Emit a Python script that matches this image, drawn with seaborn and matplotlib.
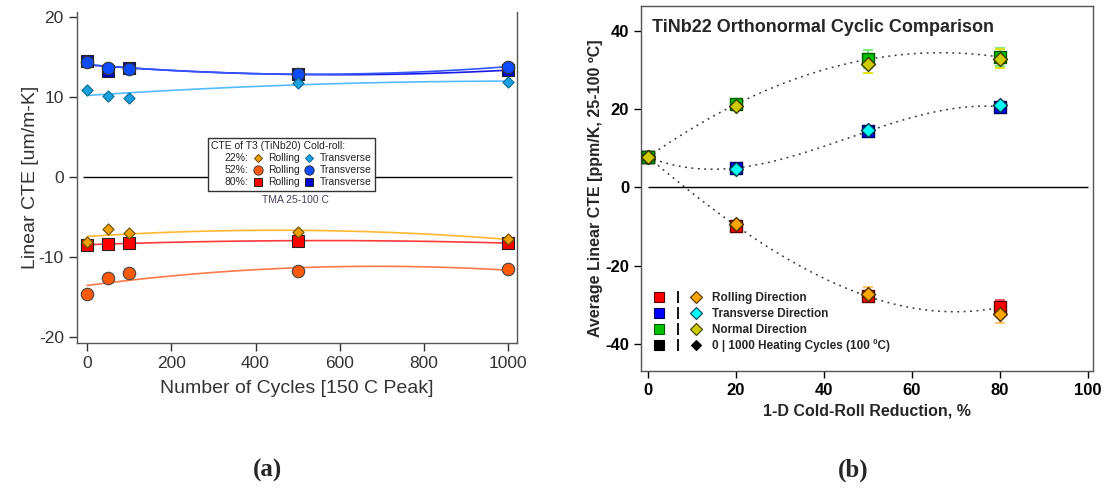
import numpy as np
import pandas as pd
import matplotlib
matplotlib.use("Agg")
import matplotlib.pyplot as plt
from matplotlib.lines import Line2D
from matplotlib.legend_handler import HandlerTuple
import seaborn as sns

# ---------------- Panel (a): CTE vs. number of thermal cycles ----------------
cycles = [0, 50, 100, 500, 1000]
roll_22 = [-8.2, -6.6, -7.0, -6.9, -7.8]
trans_22 = [10.8, 10.1, 9.9, 11.75, 11.9]
roll_52 = [-14.7, -12.7, -12.1, -11.8, -11.6]
trans_52 = [14.3, 13.6, 13.5, 12.9, 13.75]
roll_80 = [-8.5, -8.45, -8.3, -8.0, -8.3]
trans_80 = [14.5, 13.2, 13.6, 12.9, 13.3]
a_yticks = [-20, -10, 0, 10, 20]
a_xticks = [0, 200, 400, 600, 800, 1000]

# ---------------- Panel (b): CTE vs. cold-roll reduction ----------------
reduction = [0, 20, 50, 80]
rd_0 = [7.8, -9.8, -27.9, -30.7]
rd_0_err = [0.4, 0.5, 1.5, 2.0]
rd_1000 = [7.8, -9.4, -27.3, -32.4]
rd_1000_err = [0.3, 0.5, 1.8, 2.4]
td_0 = [7.8, 5.0, 14.4, 20.7]
td_0_err = [0.4, 0.6, 0.7, 1.2]
td_1000 = [7.8, 4.8, 14.6, 21.1]
td_1000_err = [0.3, 0.5, 0.6, 0.8]
nd_0 = [7.8, 21.3, 32.8, 33.4]
nd_0_err = [0.5, 1.0, 2.3, 2.2]
nd_1000 = [7.8, 20.9, 31.7, 33.0]
nd_1000_err = [0.3, 0.8, 2.3, 2.5]
b_yticks = [-40, -20, 0, 20, 40]
b_xticks = [0, 20, 40, 60, 80, 100]

sns.set_theme(style="ticks")
plt.rcParams["font.family"] = ["Liberation Sans", "DejaVu Sans"]
plt.rcParams["axes.unicode_minus"] = False

fig = plt.figure(figsize=(11.1, 4.92), dpi=100)
ax_a = fig.add_axes([0.0694, 0.3028, 0.3964, 0.6728])
ax_b = fig.add_axes([0.5775, 0.246, 0.4072, 0.742])

# ---------- panel (a) ----------
txt_a = "#333333"
spine_a = "#555555"
# drawn in this order: squares at the back, diamonds in front
series_a = [
    ("80%", "Rolling", roll_80, "s", "#FF0000", "#222222", "#FF3A3A", 70),
    ("80%", "Transverse", trans_80, "s", "#0000D0", "#222222", "#1A1AE6", 70),
    ("52%", "Rolling", roll_52, "o", "#FF5A0A", "#444444", "#FF7A4A", 80),
    ("52%", "Transverse", trans_52, "o", "#0F4BFF", "#333333", "#3355FF", 80),
    ("22%", "Rolling", roll_22, "D", "#F0A000", "#6b4c00", "#FFB830", 32),
    ("22%", "Transverse", trans_22, "D", "#1AA0E0", "#0a6a90", "#55BBFF", 32),
]

ax_a.hlines(0, -10, 1010, color="black", lw=1.0, zorder=1)
grid = np.linspace(0, 1000, 200)
for pct, direc, vals, mk, fc, ec, lc, sz in series_a:
    coef = np.polyfit(cycles, vals, 2)
    fit = pd.DataFrame({"x": grid, "y": np.polyval(coef, grid)})
    sns.lineplot(data=fit, x="x", y="y", ax=ax_a, color=lc, lw=1.2, zorder=2)
for pct, direc, vals, mk, fc, ec, lc, sz in series_a:
    df = pd.DataFrame({"x": cycles, "y": vals})
    sns.scatterplot(data=df, x="x", y="y", ax=ax_a, marker=mk, s=sz,
                    color=fc, edgecolor=ec, linewidth=0.8, zorder=3)

ax_a.set_xlim(-24, 1021)
ax_a.set_ylim(-20.8, 20.6)
ax_a.set_xticks(a_xticks)
ax_a.set_yticks(a_yticks)
ax_a.tick_params(labelsize=12.5, colors=txt_a, length=6, width=1.0, direction="out")
ax_a.set_xlabel("Number of Cycles [150 C Peak]", fontsize=14, color=txt_a, labelpad=6)
ax_a.set_ylabel("Linear CTE [um/m-K]", fontsize=14, color=txt_a, labelpad=0)
for side in ["left", "bottom", "right"]:
    ax_a.spines[side].set_color(spine_a)
    ax_a.spines[side].set_linewidth(1.0)
ax_a.spines["top"].set_visible(False)
ax_a.spines["right"].set_visible(True)

# legend of panel (a): row labels, rolling column, transverse column
blank = Line2D([], [], linestyle="none", marker=None)
a_handles, a_labels = [], []
for pct in ["22%", "52%", "80%"]:
    a_handles.append(blank)
    a_labels.append(pct + ":")
for direc in ["Rolling", "Transverse"]:
    for pct in ["22%", "52%", "80%"]:
        s = [t for t in series_a if t[0] == pct and t[1] == direc][0]
        a_handles.append(Line2D([], [], linestyle="none", marker=s[3],
                                markersize=np.sqrt(s[7]) * 0.75,
                                markerfacecolor=s[4], markeredgecolor=s[5],
                                markeredgewidth=0.7))
        a_labels.append(direc)
leg_a = ax_a.legend(a_handles, a_labels, ncol=3, loc="upper left",
                    bbox_to_anchor=(0.285, 0.635), fontsize=7.5,
                    title="CTE of T3 (TiNb20) Cold-roll:", title_fontsize=7.5,
                    alignment="left", handlelength=0.6, handletextpad=0.7,
                    columnspacing=0.6, labelspacing=0.2, borderpad=0.3,
                    fancybox=False, framealpha=1, edgecolor="#333333")
leg_a.get_frame().set_linewidth(1.0)
for t in leg_a.get_texts():
    t.set_color("#222222")
leg_a.get_title().set_color("#222222")
ax_a.text(495, -2.9, "TMA 25-100 C", fontsize=7.5, color="#4a3f5f",
          ha="center", va="center")

# ---------- panel (b) ----------
ax_b.hlines(0, 0, 100, color="black", lw=1.0, zorder=1)
grid_b = np.linspace(0, 80, 200)
for vals in [rd_0, td_0, nd_0]:
    coef = np.polyfit(reduction, vals, 3)
    fit = pd.DataFrame({"x": grid_b, "y": np.polyval(coef, grid_b)})
    sns.lineplot(data=fit, x="x", y="y", ax=ax_b, color="#333333", lw=1.1,
                 linestyle=(0, (1.2, 3.0)), zorder=2)

series_b = [
    (rd_0, rd_0_err, "s", "#FF0000", "#5a0000", "#FF5050", 85),
    (td_0, td_0_err, "s", "#0000FF", "#00005a", "#7f8cff", 85),
    (nd_0, nd_0_err, "s", "#00C000", "#005a00", "#70EE70", 85),
    (rd_1000, rd_1000_err, "D", "#FFA500", "#4a3000", "#FFC060", 50),
    (td_1000, td_1000_err, "D", "#00FFFF", "#003a4a", "#80E8FF", 50),
    (nd_1000, nd_1000_err, "D", "#CCCC00", "#3a3a00", "#E0E000", 50),
]
for vals, err, mk, fc, ec, errc, sz in series_b:
    ax_b.errorbar(reduction, vals, yerr=err, fmt="none", ecolor=errc,
                  elinewidth=1.3, capsize=3.5, capthick=1.3, zorder=3)
for vals, err, mk, fc, ec, errc, sz in series_b:
    df = pd.DataFrame({"x": reduction, "y": vals})
    sns.scatterplot(data=df, x="x", y="y", ax=ax_b, marker=mk, s=sz,
                    color=fc, edgecolor=ec, linewidth=1.0, zorder=4)

ax_b.set_xlim(-1.6, 101.2)
ax_b.set_ylim(-47, 46.5)
ax_b.set_xticks(b_xticks)
ax_b.set_yticks(b_yticks)
ax_b.tick_params(labelsize=12, length=5, width=1.0, direction="out", colors="black")
for lab in ax_b.get_xticklabels() + ax_b.get_yticklabels():
    lab.set_fontweight("bold")
ax_b.set_xlabel("1-D Cold-Roll Reduction, %", fontsize=11.5, fontweight="bold",
                labelpad=4)
ax_b.set_ylabel("Average Linear CTE [ppm/K, 25-100 ºC]", fontsize=11.5,
                fontweight="bold", labelpad=2)
for side in ["left", "bottom", "right", "top"]:
    ax_b.spines[side].set_visible(True)
    ax_b.spines[side].set_color("#555555")
    ax_b.spines[side].set_linewidth(1.0)
ax_b.text(0.025, 0.965, "TiNb22 Orthonormal Cyclic Comparison", transform=ax_b.transAxes,
          fontsize=13, fontweight="bold", ha="left", va="top")


def sq(fc, ec):
    return Line2D([], [], linestyle="none", marker="s", markersize=7,
                  markerfacecolor=fc, markeredgecolor=ec, markeredgewidth=0.8)


def dm(fc, ec, size=6):
    return Line2D([], [], linestyle="none", marker="D", markersize=size,
                  markerfacecolor=fc, markeredgecolor=ec, markeredgewidth=0.8)


bar = Line2D([], [], linestyle="none", marker="|", markersize=9,
             markeredgecolor="black", markeredgewidth=1.3)
b_handles = [
    (sq("#FF0000", "#5a0000"), bar, dm("#FFA500", "#4a3000")),
    (sq("#0000FF", "#00005a"), bar, dm("#00FFFF", "#003a4a")),
    (sq("#00C000", "#005a00"), bar, dm("#CCCC00", "#3a3a00")),
    (sq("black", "black"), bar, dm("black", "black", 5)),
]
b_labels = ["Rolling Direction", "Transverse Direction", "Normal Direction",
            "0 | 1000 Heating Cycles (100 ºC)"]
leg_b = ax_b.legend(b_handles, b_labels, loc="upper left",
                    bbox_to_anchor=(0.005, 0.245), frameon=False,
                    handler_map={tuple: HandlerTuple(ndivide=None, pad=0.6)},
                    handlelength=4.0, handletextpad=0.9, labelspacing=0.32,
                    prop={"size": 8.5, "weight": "bold"})

fig.text(268 / 1110, 1 - 470 / 492, "(a)", fontsize=18, fontweight="bold",
         family=["Liberation Serif", "DejaVu Serif"], ha="center", va="center")
fig.text(853 / 1110, 1 - 470 / 492, "(b)", fontsize=18, fontweight="bold",
         family=["Liberation Serif", "DejaVu Serif"], ha="center", va="center")

fig.savefig("out.png", dpi=100, facecolor="white")
